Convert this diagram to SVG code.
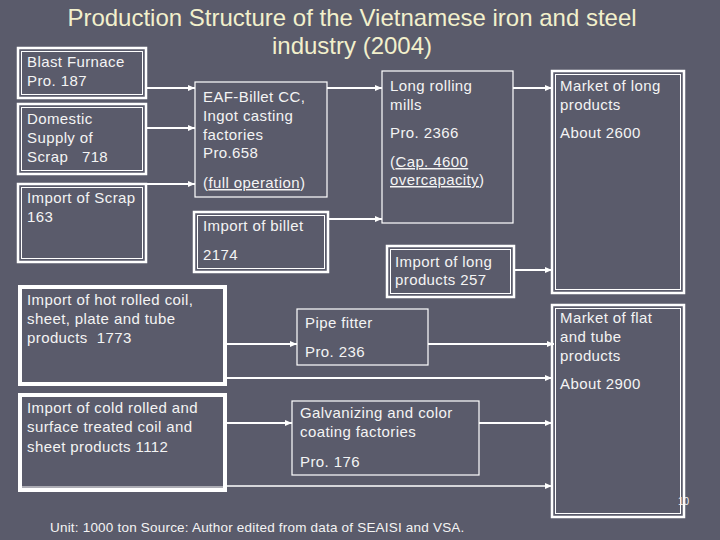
<svg xmlns="http://www.w3.org/2000/svg" width="720" height="540" viewBox="0 0 720 540">
<style>
.bg{fill:#5a5b6b}
.title{font-family:"Liberation Sans",Arial,sans-serif;font-size:24px;fill:#f2f0cc;text-anchor:middle}
.t{font-family:"Liberation Sans",Arial,sans-serif;font-size:15px;fill:#f4f4f4;letter-spacing:0.4px;white-space:pre}
.foot{font-family:"Liberation Sans",Arial,sans-serif;font-size:13.5px;fill:#f4f4f4;letter-spacing:0.2px}
.ob{fill:none;stroke:#ffffff;stroke-width:2.5}
.ib{fill:none;stroke:#ffffff;stroke-width:1}
.thin{fill:none;stroke:#ffffff;stroke-width:1.2}
.thick{fill:none;stroke:#ffffff;stroke-width:4}
.c{stroke:#ffffff;stroke-width:2;fill:none;marker-end:url(#ah)}
.c1{stroke:#ffffff;stroke-width:1.5;fill:none;marker-end:url(#ah)}
.u{text-decoration:underline}
</style>
<defs>
<marker id="ah" markerUnits="userSpaceOnUse" markerWidth="8" markerHeight="8" refX="7" refY="4" orient="auto">
<path d="M0,1 L7,4 L0,7 Z" fill="#ffffff"/>
</marker>
</defs>
<rect class="bg" x="0" y="0" width="720" height="540"/>
<g id="title">
<text class="title" x="352" y="26">Production Structure of the Vietnamese iron and steel</text>
<text class="title" x="352" y="54">industry (2004)</text>
</g>
<g id="connectors">
<line class="c" x1="146" y1="88" x2="195" y2="88"/>
<line class="c" x1="146" y1="128" x2="195" y2="128"/>
<line class="c" x1="146" y1="184" x2="195" y2="184"/>
<line class="c" x1="327" y1="88" x2="382" y2="88"/>
<line class="c" x1="328" y1="219" x2="382" y2="219"/>
<line class="c" x1="513" y1="88" x2="552" y2="88"/>
<line class="c" x1="514" y1="270" x2="552" y2="270"/>
<line class="c" x1="226" y1="344" x2="297" y2="344"/>
<line class="c" x1="428" y1="344" x2="554" y2="344"/>
<line class="c" x1="226" y1="378" x2="552" y2="378"/>
<line class="c" x1="226" y1="423" x2="292" y2="423"/>
<line class="c" x1="479" y1="423" x2="552" y2="423"/>
<line class="c1" x1="226" y1="486" x2="552" y2="486"/>
</g>
<g id="blast">
<rect class="ob" x="18" y="48" width="128" height="50"/>
<rect class="ib" x="21.5" y="51.5" width="121" height="43"/>
<text class="t" x="27" y="67">Blast Furnace</text>
<text class="t" x="27" y="86">Pro. 187</text>
</g>
<g id="domestic">
<rect class="ob" x="18" y="104" width="128" height="70"/>
<rect class="ib" x="21.5" y="107.5" width="121" height="63"/>
<text class="t" x="27" y="124">Domestic</text>
<text class="t" x="27" y="143">Supply of</text>
<text class="t" x="27" y="162">Scrap   718</text>
</g>
<g id="scrap">
<rect class="ob" x="18" y="184" width="128" height="78"/>
<rect class="ib" x="21.5" y="187.5" width="121" height="71"/>
<text class="t" x="27" y="203">Import of Scrap</text>
<text class="t" x="27" y="222">163</text>
</g>
<g id="eaf">
<rect class="thin" x="195" y="82" width="132" height="115"/>
<text class="t" x="203" y="102">EAF-Billet CC,</text>
<text class="t" x="203" y="121">Ingot casting</text>
<text class="t" x="203" y="140">factories</text>
<text class="t" x="203" y="158">Pro.658</text>
<text class="t" x="203" y="188">(<tspan class="u">full operation</tspan>)</text>
</g>
<g id="billet">
<rect class="ob" x="194" y="212" width="134" height="60"/>
<rect class="ib" x="197.5" y="215.5" width="127" height="53"/>
<text class="t" x="203" y="231">Import of billet</text>
<text class="t" x="203" y="260">2174</text>
</g>
<g id="longrolling">
<rect class="thin" x="382" y="71" width="131" height="152"/>
<text class="t" x="390" y="91">Long rolling</text>
<text class="t" x="390" y="110">mills</text>
<text class="t" x="390" y="138">Pro. 2366</text>
<text class="t" x="390" y="167">(<tspan class="u">Cap. 4600</tspan></text>
<text class="t" x="390" y="185"><tspan class="u">overcapacity</tspan>)</text>
</g>
<g id="marketlong">
<rect class="ob" x="552" y="71" width="132" height="222"/>
<rect class="ib" x="555.5" y="74.5" width="125" height="215"/>
<text class="t" x="560" y="91">Market of long</text>
<text class="t" x="560" y="110">products</text>
<text class="t" x="560" y="138">About 2600</text>
</g>
<g id="importlong">
<rect class="ob" x="387" y="246" width="127" height="51"/>
<rect class="ib" x="390.5" y="249.5" width="120" height="44"/>
<text class="t" x="395" y="267">Import of long</text>
<text class="t" x="395" y="285">products 257</text>
</g>
<g id="hotrolled">
<rect class="thick" x="20" y="287" width="205" height="97"/>
<text class="t" x="27" y="305">Import of hot rolled coil,</text>
<text class="t" x="27" y="324">sheet, plate and tube</text>
<text class="t" x="27" y="343">products  1773</text>
</g>
<g id="pipe">
<rect class="thin" x="297" y="309" width="131" height="56"/>
<text class="t" x="305" y="328">Pipe fitter</text>
<text class="t" x="305" y="357">Pro. 236</text>
</g>
<g id="marketflat">
<rect class="ob" x="552" y="305" width="132" height="212"/>
<rect class="ib" x="555.5" y="308.5" width="125" height="205"/>
<text class="t" x="560" y="323">Market of flat</text>
<text class="t" x="560" y="342">and tube</text>
<text class="t" x="560" y="361">products</text>
<text class="t" x="560" y="389">About 2900</text>
</g>
<g id="coldrolled">
<rect class="thick" x="20" y="395" width="205" height="95"/>
<line x1="20" y1="487" x2="225" y2="487" stroke="#ffffff" stroke-width="1"/>
<text class="t" x="27" y="413">Import of cold rolled and</text>
<text class="t" x="27" y="432">surface treated coil and</text>
<text class="t" x="27" y="452">sheet products 1112</text>
</g>
<g id="galv">
<rect class="thin" x="292" y="401" width="187" height="74"/>
<text class="t" x="300" y="418">Galvanizing and color</text>
<text class="t" x="300" y="437">coating factories</text>
<text class="t" x="300" y="467">Pro. 176</text>
</g>
<g id="footer">
<text class="foot" x="50" y="532">Unit: 1000 ton Source: Author edited from data of SEAISI and VSA.</text>
<text class="foot" x="678" y="505" style="font-size:10px;letter-spacing:0">10</text>
</g>
</svg>
